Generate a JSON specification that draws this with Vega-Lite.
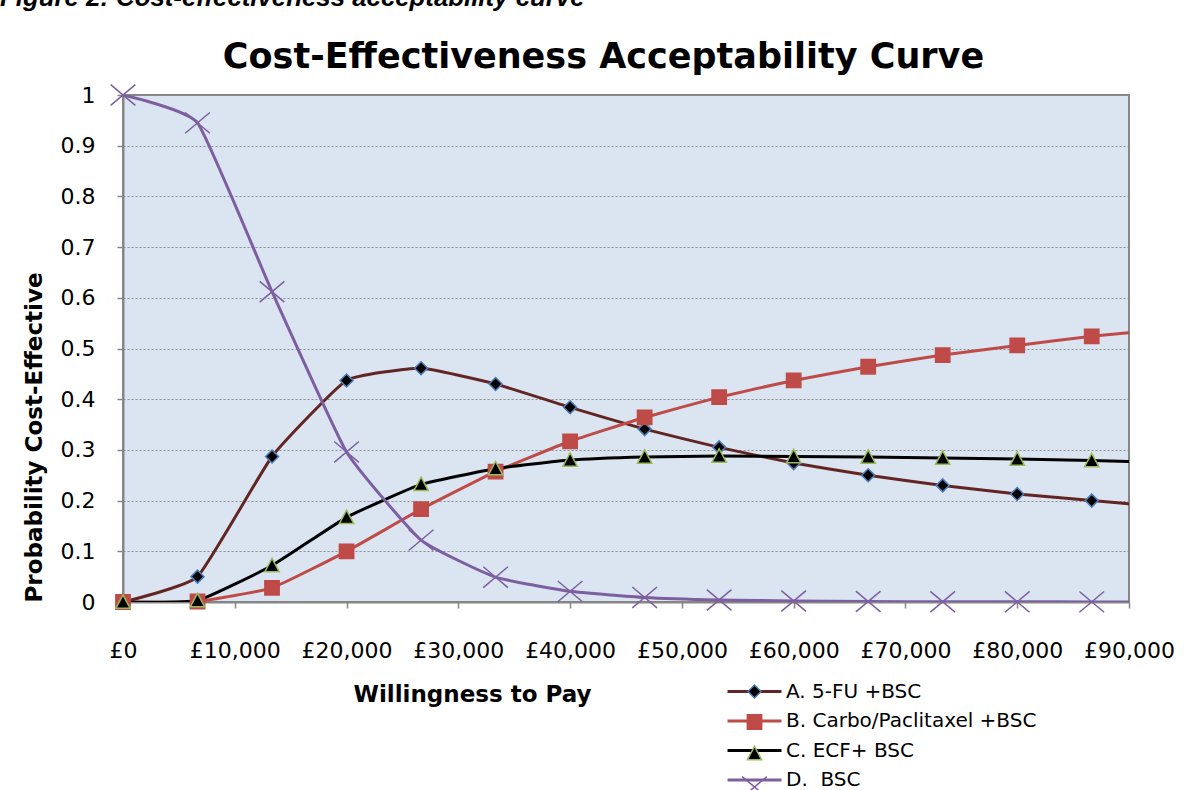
{
  "$schema": "https://vega.github.io/schema/vega-lite/v6.json",
  "autosize": {"type": "none"},
  "width": 1006,
  "height": 507,
  "padding": {"left": 123, "top": 95, "right": 55, "bottom": 188},
  "background": "#ffffff",
  "title": {
    "text": "Figure 2: Cost-effectiveness acceptability curve",
    "anchor": "start",
    "frame": "group",
    "dx": -123,
    "dy": 18,
    "offset": 25,
    "baseline": "alphabetic",
    "font": "Liberation Sans",
    "fontSize": 25.8,
    "fontWeight": "bold",
    "fontStyle": "italic",
    "color": "#000000"
  },
  "data": {
    "values": [
      {"wtp": 0, "series": "A. 5-FU +BSC", "p": 0},
      {"wtp": 6667, "series": "A. 5-FU +BSC", "p": 0.05},
      {"wtp": 13333, "series": "A. 5-FU +BSC", "p": 0.287},
      {"wtp": 20000, "series": "A. 5-FU +BSC", "p": 0.437},
      {"wtp": 26667, "series": "A. 5-FU +BSC", "p": 0.461},
      {"wtp": 33333, "series": "A. 5-FU +BSC", "p": 0.43},
      {"wtp": 40000, "series": "A. 5-FU +BSC", "p": 0.384},
      {"wtp": 46667, "series": "A. 5-FU +BSC", "p": 0.341},
      {"wtp": 53333, "series": "A. 5-FU +BSC", "p": 0.305},
      {"wtp": 60000, "series": "A. 5-FU +BSC", "p": 0.274},
      {"wtp": 66667, "series": "A. 5-FU +BSC", "p": 0.25},
      {"wtp": 73333, "series": "A. 5-FU +BSC", "p": 0.23},
      {"wtp": 80000, "series": "A. 5-FU +BSC", "p": 0.213},
      {"wtp": 86667, "series": "A. 5-FU +BSC", "p": 0.2},
      {"wtp": 93333, "series": "A. 5-FU +BSC", "p": 0.187},
      {"wtp": 0, "series": "B. Carbo/Paclitaxel +BSC", "p": 0},
      {"wtp": 6667, "series": "B. Carbo/Paclitaxel +BSC", "p": 0.001},
      {"wtp": 13333, "series": "B. Carbo/Paclitaxel +BSC", "p": 0.028},
      {"wtp": 20000, "series": "B. Carbo/Paclitaxel +BSC", "p": 0.1},
      {"wtp": 26667, "series": "B. Carbo/Paclitaxel +BSC", "p": 0.183},
      {"wtp": 33333, "series": "B. Carbo/Paclitaxel +BSC", "p": 0.257},
      {"wtp": 40000, "series": "B. Carbo/Paclitaxel +BSC", "p": 0.317},
      {"wtp": 46667, "series": "B. Carbo/Paclitaxel +BSC", "p": 0.364},
      {"wtp": 53333, "series": "B. Carbo/Paclitaxel +BSC", "p": 0.404},
      {"wtp": 60000, "series": "B. Carbo/Paclitaxel +BSC", "p": 0.437},
      {"wtp": 66667, "series": "B. Carbo/Paclitaxel +BSC", "p": 0.464},
      {"wtp": 73333, "series": "B. Carbo/Paclitaxel +BSC", "p": 0.487},
      {"wtp": 80000, "series": "B. Carbo/Paclitaxel +BSC", "p": 0.506},
      {"wtp": 86667, "series": "B. Carbo/Paclitaxel +BSC", "p": 0.524},
      {"wtp": 93333, "series": "B. Carbo/Paclitaxel +BSC", "p": 0.538},
      {"wtp": 0, "series": "C. ECF+ BSC", "p": 0},
      {"wtp": 6667, "series": "C. ECF+ BSC", "p": 0.003},
      {"wtp": 13333, "series": "C. ECF+ BSC", "p": 0.072},
      {"wtp": 20000, "series": "C. ECF+ BSC", "p": 0.167},
      {"wtp": 26667, "series": "C. ECF+ BSC", "p": 0.232},
      {"wtp": 33333, "series": "C. ECF+ BSC", "p": 0.263},
      {"wtp": 40000, "series": "C. ECF+ BSC", "p": 0.28},
      {"wtp": 46667, "series": "C. ECF+ BSC", "p": 0.286},
      {"wtp": 53333, "series": "C. ECF+ BSC", "p": 0.288},
      {"wtp": 60000, "series": "C. ECF+ BSC", "p": 0.287},
      {"wtp": 66667, "series": "C. ECF+ BSC", "p": 0.286},
      {"wtp": 73333, "series": "C. ECF+ BSC", "p": 0.284},
      {"wtp": 80000, "series": "C. ECF+ BSC", "p": 0.282},
      {"wtp": 86667, "series": "C. ECF+ BSC", "p": 0.279},
      {"wtp": 93333, "series": "C. ECF+ BSC", "p": 0.275},
      {"wtp": 0, "series": "D.  BSC", "p": 1},
      {"wtp": 6667, "series": "D.  BSC", "p": 0.945},
      {"wtp": 13333, "series": "D.  BSC", "p": 0.612},
      {"wtp": 20000, "series": "D.  BSC", "p": 0.296},
      {"wtp": 26667, "series": "D.  BSC", "p": 0.122},
      {"wtp": 33333, "series": "D.  BSC", "p": 0.049},
      {"wtp": 40000, "series": "D.  BSC", "p": 0.021},
      {"wtp": 46667, "series": "D.  BSC", "p": 0.009},
      {"wtp": 53333, "series": "D.  BSC", "p": 0.004},
      {"wtp": 60000, "series": "D.  BSC", "p": 0.002},
      {"wtp": 66667, "series": "D.  BSC", "p": 0.001},
      {"wtp": 73333, "series": "D.  BSC", "p": 0.0005},
      {"wtp": 80000, "series": "D.  BSC", "p": 0.0003},
      {"wtp": 86667, "series": "D.  BSC", "p": 0.0002},
      {"wtp": 93333, "series": "D.  BSC", "p": 0.0001}
    ]
  },
  "layer": [
    {
      "mark": {"type": "line", "interpolate": "cardinal", "tension": 0.6, "strokeWidth": 3, "clip": true},
      "encoding": {
        "x": {
          "field": "wtp",
          "type": "quantitative",
          "scale": {"domain": [0, 90000], "nice": false, "zero": false},
          "axis": {
            "orient": "bottom",
            "values": [0, 10000, 20000, 30000, 40000, 50000, 60000, 70000, 80000, 90000],
            "labelExpr": "'£' + format(datum.value, ',')",
            "grid": false,
            "domainColor": "#868686",
            "domainWidth": 2,
            "tickColor": "#868686",
            "tickWidth": 1.5,
            "tickSize": 6,
            "labelFont": "DejaVu Sans",
            "labelFontSize": 22,
            "labelColor": "#000000",
            "labelBaseline": "middle",
            "labelPadding": 42,
            "labelFlush": false,
            "labelOverlap": false,
            "labelBound": false,
            "title": "Willingness to Pay",
            "titleFont": "DejaVu Sans",
            "titleFontSize": 23,
            "titleFontWeight": "bold",
            "titleColor": "#000000",
            "titleX": 349,
            "titleY": 92,
            "titleAlign": "center",
            "titleBaseline": "middle"
          }
        },
        "y": {
          "field": "p",
          "type": "quantitative",
          "scale": {"domain": [0, 1], "nice": false},
          "axis": {
            "values": [0, 0.1, 0.2, 0.3, 0.4, 0.5, 0.6, 0.7, 0.8, 0.9, 1],
            "labelExpr": "format(datum.value, '~g')",
            "grid": true,
            "gridColor": "#8c8c8c",
            "gridDash": [2, 2],
            "gridWidth": 1,
            "domainColor": "#868686",
            "domainWidth": 2,
            "tickColor": "#868686",
            "tickWidth": 1.5,
            "tickSize": 6,
            "labelFont": "DejaVu Sans",
            "labelFontSize": 22,
            "labelColor": "#000000",
            "labelPadding": 22,
            "labelFlush": false,
            "labelOverlap": false,
            "labelBound": false,
            "title": "Probability Cost-Effective",
            "titleFont": "DejaVu Sans",
            "titleFontSize": 23,
            "titleFontWeight": "bold",
            "titleColor": "#000000",
            "titleAngle": 270,
            "titleX": -89,
            "titleY": 342,
            "titleAlign": "center",
            "titleBaseline": "middle"
          }
        },
        "color": {
          "field": "series",
          "type": "nominal",
          "scale": {
            "domain": ["A. 5-FU +BSC", "B. Carbo/Paclitaxel +BSC", "C. ECF+ BSC", "D.  BSC"],
            "range": ["#632523", "#BE4B48", "#000000", "#7D5FA0"]
          },
          "legend": {
            "orient": "none",
            "legendX": 621.5,
            "legendY": 586.5,
            "title": null,
            "padding": 0,
            "symbolType": "M-4,0L4,0",
            "symbolSize": 182,
            "symbolStrokeWidth": 3,
            "labelExpr": "replace(datum.label, '  ', '\u00a0 ')",
            "labelFont": "DejaVu Sans",
            "labelFontSize": 20,
            "labelColor": "#000000",
            "labelOffset": 21.5,
            "labelLimit": 400,
            "rowPadding": 9.5
          }
        }
      }
    },
    {
      "transform": [{"filter": "datum.wtp <= 90000"}],
      "mark": {"type": "point", "filled": true, "size": 169, "strokeWidth": 1.5, "opacity": 1, "clip": false},
      "encoding": {
        "x": {
          "field": "wtp",
          "type": "quantitative",
          "axis": {
            "orient": "top",
            "domain": false,
            "ticks": false,
            "labels": false,
            "grid": false,
            "title": "Cost-Effectiveness Acceptability Curve",
            "titleFont": "DejaVu Sans",
            "titleFontSize": 35,
            "titleFontWeight": "bold",
            "titleColor": "#000000",
            "titleX": 480,
            "titleY": -28,
            "titleAlign": "center",
            "titleBaseline": "alphabetic"
          }
        },
        "y": {"field": "p", "type": "quantitative"},
        "shape": {
          "field": "series",
          "type": "nominal",
          "scale": {
            "range": ["diamond", "M-1.1,-1.1H1.1V1.1H-1.1Z", "M0,-1.1L1.1,0.95L-1.1,0.95Z", "M-1.9,-1.6L1.9,1.6M-1.9,1.6L1.9,-1.6"]
          },
          "legend": {
            "orient": "none",
            "legendX": 621.5,
            "legendY": 586.5,
            "title": null,
            "padding": 0,
            "symbolSize": 169,
            "symbolStrokeWidth": 1.5,
            "labelExpr": "''",
            "labelFont": "DejaVu Sans",
            "labelFontSize": 20,
            "labelOffset": 21.5,
            "labelLimit": 400,
            "rowPadding": 9.5
          }
        },
        "fill": {
          "field": "series",
          "type": "nominal",
          "scale": {"range": ["#000000", "#BE4B48", "#000000", "transparent"]}
        },
        "stroke": {
          "field": "series",
          "type": "nominal",
          "scale": {"range": ["#4A7EBB", "#BE4B48", "#9BBB59", "#7D5FA0"]}
        }
      }
    }
  ],
  "resolve": {"axis": {"x": "independent"}},
  "config": {
    "view": {"fill": "#DBE5F1", "stroke": "#868686", "strokeWidth": 2},
    "legend": {"padding": 0}
  }
}
